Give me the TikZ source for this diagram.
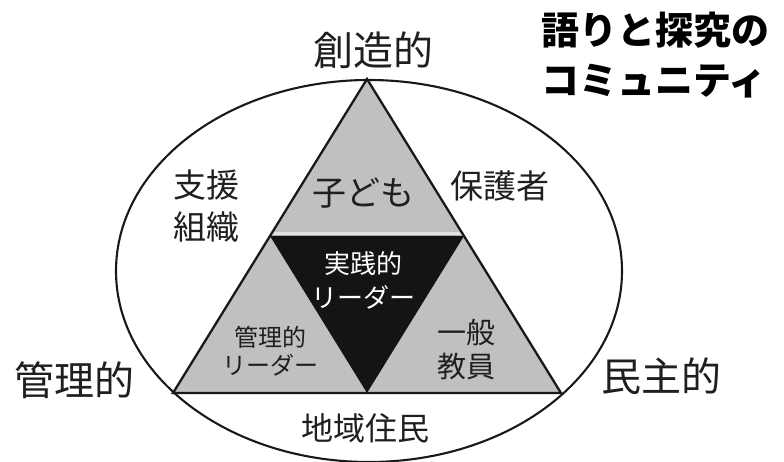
\documentclass[tikz,border=0pt]{standalone}
\usepackage{fontspec}
\setmainfont{Noto Sans CJK JP}
\usetikzlibrary{calc}
\definecolor{midgray}{RGB}{192,192,192}
\definecolor{bandgray}{RGB}{225,225,225}
\begin{document}
\begin{tikzpicture}[x=1pt,y=-1pt,
  lbl/.style={inner sep=0pt, align=center, text=black!88},
  big/.style={lbl, font=\fontsize{40}{48}\selectfont},
  mid/.style={lbl, font=\fontsize{33}{42}\selectfont},
  outline/.style={line width=2.3pt, line join=miter, black!90}]
\useasboundingbox (0,0) rectangle (784,462);
\fill[white] (0,0) rectangle (784,462);
% triangle corners
\coordinate (A) at (367,79);
\coordinate (L) at (173,393);
\coordinate (R) at (561,393);
\coordinate (ML) at ($(A)!0.5!(L)$);
\coordinate (MR) at ($(A)!0.5!(R)$);
\coordinate (MB) at ($(L)!0.5!(R)$);
\fill[midgray] (A) -- (L) -- (R) -- cycle;
\fill[black!92] (ML) -- (MR) -- (MB) -- cycle;
\draw[bandgray, line width=2.5pt] ($(ML)+(2,-2.5)$) -- ($(MR)+(-2,-2.5)$);
\draw[outline] (A) -- (L) -- (R) -- cycle;
\draw[line width=2.1pt, black!90] (369,271) ellipse [x radius=253, y radius=191];
% labels
\node[big] (cre) at (373,50) {創造的};
\node[big] (kan) at (74,380) {管理的};
\node[big] (min) at (661,376) {民主的};
\node[lbl, font=\fontsize{32}{40}\selectfont] (chi) at (365,428) {地域住民};
\node[mid] (shi) at (206,206) {支援\\組織};
\node[mid] (hog) at (500,186) {保護者};
\node[lbl, font=\fontsize{34}{42}\selectfont] (kod) at (363,193) {子ども};
\node[lbl, text=white, font=\fontsize{26}{34}\selectfont] (jis) at (363,280) {実践的\\リーダー};
\node[lbl, font=\fontsize{24}{28}\selectfont] (kri) at (270,351) {管理的\\リーダー};
\node[lbl, font=\fontsize{29}{34}\selectfont] (ipp) at (466,350) {一般\\教員};
\node[lbl, anchor=west, align=left, text=black, font=\bfseries\fontsize{38}{50}\selectfont] (tit) at (541,55) {語りと探究の\\コミュニティ};
\end{tikzpicture}
\end{document}
